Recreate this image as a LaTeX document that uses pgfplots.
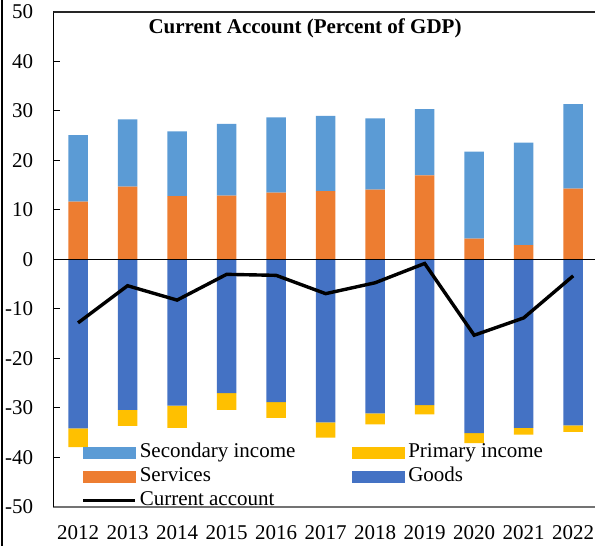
\documentclass[border=0pt]{standalone}
\usepackage{fontspec}
\setmainfont{Liberation Serif}
\usepackage{pgfplots}
\usepackage{pgfplotstable}
\pgfplotsset{compat=1.18}

\definecolor{goods}{HTML}{4472C4}
\definecolor{services}{HTML}{ED7D31}
\definecolor{secinc}{HTML}{5B9BD5}
\definecolor{priminc}{HTML}{FFC000}

\pgfplotstableread{
x year goods primary services secondary ca
0 2012 -34.1 -3.8 11.7 13.4 -12.8
1 2013 -30.4 -3.2 14.7 13.6 -5.3
2 2014 -29.5 -4.5 12.8 13.1 -8.2
3 2015 -27.0 -3.4 12.9 14.5 -3.0
4 2016 -28.8 -3.2 13.5 15.2 -3.2
5 2017 -32.9 -3.1 13.8 15.2 -6.9
6 2018 -31.1 -2.2 14.1 14.4 -4.7
7 2019 -29.4 -1.9 17.0 13.4 -0.8
8 2020 -35.1 -2.0 4.2 17.6 -15.3
9 2021 -34.0 -1.4 2.9 20.7 -11.8
10 2022 -33.5 -1.3 14.3 17.1 -3.3
}\cadata

\newcommand{\chartfont}{\fontsize{10.5}{12.6}\selectfont}

\pgfplotsset{
  castyle/.style={
    width=270.85pt, height=247.5pt, scale only axis,
    at={(0,0)}, anchor=south west,
    xmin=-0.5, xmax=10.44, ymin=-50, ymax=50,
    xtick={0,...,10},
    ytick={-50,-40,...,50},
  },
  barpart/.style={draw=none, fill=#1},
}

\begin{document}
\begin{tikzpicture}
% frame, ticks and the negative stack
\begin{axis}[castyle,
  ybar stacked, bar width=9.75pt,
  axis x line*=bottom, axis y line*=left,
  x axis line style={draw=black!55, line width=0.6pt},
  y axis line style={draw=black, line width=0.5pt},
  xticklabels={2012,2013,2014,2015,2016,2017,2018,2019,2020,2021,2022},
  yticklabels={-50,-40,-30,-20,-10,0,10,20,30,40,50},
  xtick style={draw=none},
  ytick style={black, line width=0.5pt},
  tick align=inside, major tick length=3.5pt,
  tick label style={font=\chartfont},
  xticklabel style={yshift=-5.5pt},
  yticklabel style={xshift=-6.5pt},
  ]
  \addplot[barpart=goods] table[x=x,y=goods]{\cadata};
  \addplot[barpart=priminc] table[x=x,y=primary]{\cadata};
  \draw[black!85, line width=0.7pt] (rel axis cs:0,1) -- (rel axis cs:1,1);
\end{axis}
% positive stack
\begin{axis}[castyle, hide axis,
  ybar stacked, bar width=9.75pt]
  \addplot[barpart=services] table[x=x,y=services]{\cadata};
  \addplot[barpart=secinc] table[x=x,y=secondary]{\cadata};
\end{axis}
% current account line, legend and title
\begin{axis}[castyle, hide axis,
  legend columns=2,
  legend cell align=left,
  legend style={draw=none, fill=none, inner sep=0pt,
    at={(rel axis cs:0.0511,0.135)}, anchor=north west,
    font=\chartfont,
    nodes={inner sep=1.5pt, text height=7pt, text depth=2pt},
    /tikz/every even column/.append style={column sep=27pt}},
  ]
  \draw[black, line width=0.5pt] (axis cs:-0.5,0) -- (axis cs:10.44,0);
  \addplot[black, line width=1.7pt, mark=none, forget plot] table[x=x,y=ca]{\cadata};
  \addlegendimage{legend image code/.code={\fill[secinc] (0pt,-2.75pt) rectangle (26pt,2.75pt);}}
  \addlegendentry{Secondary income}
  \addlegendimage{legend image code/.code={\fill[priminc] (0pt,-2.75pt) rectangle (26pt,2.75pt);}}
  \addlegendentry{Primary income}
  \addlegendimage{legend image code/.code={\fill[services] (0pt,-2.75pt) rectangle (26pt,2.75pt);}}
  \addlegendentry{Services}
  \addlegendimage{legend image code/.code={\fill[goods] (0pt,-2.75pt) rectangle (26pt,2.75pt);}}
  \addlegendentry{Goods}
  \addlegendimage{legend image code/.code={\draw[black, line width=1.7pt] (0pt,0pt) -- (26pt,0pt);}}
  \addlegendentry{Current account}
  \node[font=\bfseries\chartfont] at (rel axis cs:0.4647,0.967) {Current Account (Percent of GDP)};
\end{axis}
\draw[black, line width=1.3pt] (-25.65pt,-19.5pt) -- (-25.65pt,253.5pt);
\pgfresetboundingbox
\path[use as bounding box] (-26.65pt,-19.5pt) rectangle (270.85pt,253.5pt);
\end{tikzpicture}
\end{document}
